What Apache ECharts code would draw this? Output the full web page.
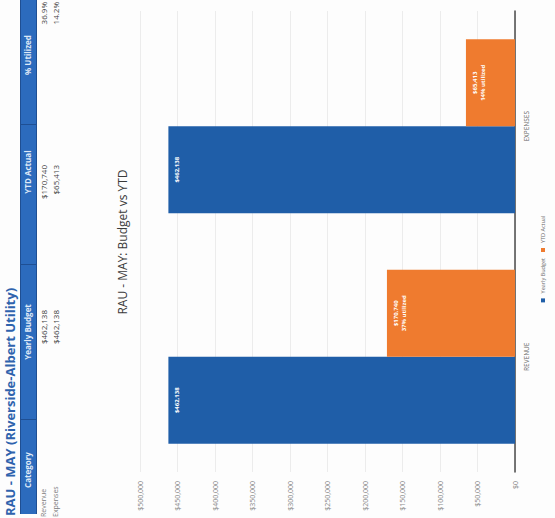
<!DOCTYPE html>
<html>
<head>
<meta charset="utf-8">
<script src="https://cdn.jsdelivr.net/npm/echarts@6/dist/echarts.min.js"></script>
<style>
  html, body { margin: 0; padding: 0; background: #fdfdfd; }
  body { width: 555px; height: 518px; overflow: hidden; position: relative; }
  /* Page laid out upright (518 wide x 555 tall), then turned a quarter-turn counter-clockwise */
  #page {
    position: absolute; left: 0; top: 0;
    width: 518px; height: 555px;
    transform-origin: 0 0;
    transform: translate(0, 518px) rotate(-90deg);
    background: #fdfdfd;
    font-family: "Open Sans", "Liberation Sans", sans-serif;
  }
  #chart { position: absolute; left: 0; top: 0; width: 518px; height: 555px; }
  #table { position: absolute; left: 0; top: 0; width: 518px; height: 64px; z-index: 2; }
  .t { position: absolute; white-space: nowrap; line-height: 1; }
  #tblTitle { left: 2px; top: 4px; font-size: 13px; font-weight: bold; color: #2f63ad; }
  #band { position: absolute; left: 4px; top: 20px; width: 514px; height: 17px; background: #2c6bbd;
          border-top: 1px solid #1f4f93; border-bottom: 1px solid #1f4f93; box-sizing: border-box; }
  .sep { position: absolute; top: 20px; width: 1px; height: 17px; background: #1f4f93; }
  .hdr { top: 24px; font-size: 8px; font-weight: bold; color: #dfe9f7; transform: translateX(-50%); }
  .row { font-size: 8px; color: #404040; }
  .lbl { font-size: 7px; color: #7a7a7a; }
  .num { transform: translateX(-100%); }
</style>
</head>
<body>
<div id="page">
  <div id="chart"></div>
  <div id="table">
    <div class="t" id="tblTitle"></div>
    <div id="band"></div>
    <div class="sep" style="left:98px"></div>
    <div class="sep" style="left:253px"></div>
    <div class="sep" style="left:393px"></div>
  </div>
</div>
<script>
// Report data
const reportTitle = 'RAU - MAY (Riverside-Albert Utility)';
const chartTitle = 'RAU - MAY: Budget vs YTD';
const tableHeaders = ['Category', 'Yearly Budget', 'YTD Actual', '% Utilized'];
const rowNames = ['Revenue', 'Expenses'];
const categories = ['REVENUE', 'EXPENSES'];
const yearlyBudget = [462138, 462138];
const ytdActual = [170740, 65413];
const seriesNames = ['Yearly Budget', 'YTD Actual'];
const valueAxisMin = 0;
const valueAxisMax = 500000;
const valueAxisStep = 50000;

const money = v => '$' + v.toLocaleString('en-US');
const pct = (a, b) => a / b * 100;

// ---- summary table ----
const table = document.getElementById('table');
document.getElementById('tblTitle').textContent = reportTitle;
const headerCenters = [48, 186, 346, 463];
tableHeaders.forEach((h, i) => {
  const d = document.createElement('div');
  d.className = 't hdr';
  d.style.left = headerCenters[i] + 'px';
  d.textContent = h;
  table.appendChild(d);
});
const rowTops = [40, 52];
rowNames.forEach((name, r) => {
  const cells = [
    { cls: 't lbl', left: 1, text: name },
    { cls: 't row num', left: 208, text: money(yearlyBudget[r]) },
    { cls: 't row num', left: 353, text: money(ytdActual[r]) },
    { cls: 't row num', left: 516, text: pct(ytdActual[r], yearlyBudget[r]).toFixed(1) + '%' }
  ];
  cells.forEach(c => {
    const d = document.createElement('div');
    d.className = c.cls;
    d.style.left = c.left + 'px';
    d.style.top = rowTops[r] + 'px';
    d.textContent = c.text;
    table.appendChild(d);
  });
});

// ---- budget vs YTD column chart ----
const FONT = 'Open Sans, Liberation Sans, sans-serif';
const chart = echarts.init(document.getElementById('chart'), null, { renderer: 'svg' });
const barLabel = {
  show: true,
  position: 'insideTop',
  distance: 5,
  color: '#ffffff',
  fontSize: 6,
  fontWeight: 'bold',
  lineHeight: 8,
  fontFamily: FONT
};
chart.setOption({
  backgroundColor: 'transparent',
  animation: false,
  title: {
    text: chartTitle,
    left: 271,
    top: 111,
    textAlign: 'center',
    textStyle: { fontSize: 12, fontWeight: 'normal', color: '#3a3a3a', fontFamily: FONT }
  },
  legend: {
    data: seriesNames,
    left: 'center',
    top: 540,
    padding: [0, 0, 0, 26],
    icon: 'rect',
    itemWidth: 4,
    itemHeight: 4,
    itemGap: 6,
    textStyle: { fontSize: 5.5, color: '#6a6a6a', fontFamily: FONT }
  },
  grid: { left: 46, right: 11, top: 140, bottom: 40, containLabel: false },
  xAxis: {
    type: 'category',
    data: categories,
    axisLine: { lineStyle: { color: '#4a4a4a', width: 1.5 } },
    axisTick: { show: false },
    axisLabel: { fontSize: 6.5, color: '#6a6a6a', margin: 8, fontFamily: FONT }
  },
  yAxis: {
    type: 'value',
    min: valueAxisMin,
    max: valueAxisMax,
    interval: valueAxisStep,
    axisLine: { show: false },
    axisTick: { show: false },
    splitLine: { lineStyle: { color: '#ececec', width: 1 } },
    axisLabel: {
      fontSize: 7, color: '#8a8a8a', margin: 9,
      fontFamily: FONT,
      formatter: v => money(v)
    }
  },
  series: [
    {
      name: seriesNames[0],
      type: 'bar',
      data: yearlyBudget,
      barWidth: 87,
      barGap: '0%',
      itemStyle: { color: '#1f5ea8' },
      label: Object.assign({}, barLabel, { formatter: p => money(p.value) })
    },
    {
      name: seriesNames[1],
      type: 'bar',
      data: ytdActual,
      barWidth: 87,
      itemStyle: { color: '#ef7b2f' },
      label: Object.assign({}, barLabel, {
        formatter: p => money(p.value) + '\n' + Math.round(pct(p.value, yearlyBudget[p.dataIndex])) + '% utilized'
      })
    }
  ]
});
</script>
</body>
</html>
